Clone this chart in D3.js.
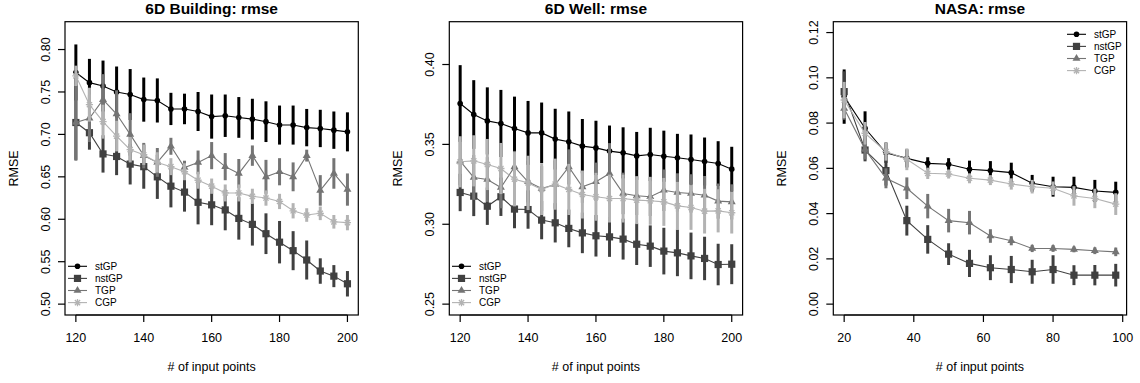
<!DOCTYPE html>
<html>
<head>
<meta charset="utf-8">
<style>
  body { margin:0; background:#fff; }
  text { font-family: "Liberation Sans", Arial, Helvetica, sans-serif; fill:#000; }
  .title { font-size:15.5px; font-weight:bold; }
  .tick { font-size:12.5px; }
  .lab { font-size:12.5px; }
  .leg { font-size:10px; }
</style>
</head>
<body>
<script src="https://cdnjs.cloudflare.com/ajax/libs/d3/7.8.5/d3.min.js"></script>
<script>

// ---- DATA ----
var seriesNames = ["stGP", "nstGP", "TGP", "CGP"];

// 6D Building
var bldX    = [120,124,128,132,136,140,144,148,152,156,160,164,168,172,176,180,184,188,192,196,200];
var bldSt   = [0.773,0.761,0.757,0.750,0.747,0.741,0.740,0.730,0.730,0.727,0.721,0.722,0.720,0.718,0.715,0.711,0.711,0.708,0.707,0.705,0.703];
var bldStE  = [0.033,0.028,0.030,0.030,0.030,0.026,0.026,0.019,0.018,0.023,0.026,0.025,0.024,0.024,0.024,0.023,0.023,0.022,0.022,0.022,0.023];
var bldNst  = [0.714,0.702,0.677,0.674,0.665,0.662,0.650,0.639,0.632,0.620,0.617,0.611,0.601,0.594,0.583,0.573,0.563,0.552,0.539,0.533,0.524];
var bldNstE = [0.044,0.020,0.022,0.022,0.024,0.026,0.026,0.025,0.023,0.026,0.024,0.024,0.025,0.025,0.024,0.025,0.023,0.023,0.015,0.013,0.015];
var bldTgp  = [0.714,0.719,0.741,0.724,0.700,0.675,0.667,0.686,0.661,0.667,0.675,0.662,0.654,0.675,0.650,0.656,0.650,0.675,0.634,0.654,0.635];
var bldTgpE = [0.045,0.028,0.030,0.028,0.025,0.015,0.017,0.010,0.008,0.014,0.016,0.016,0.017,0.012,0.020,0.016,0.017,0.007,0.018,0.018,0.019];
var bldCgp  = [0.769,0.735,0.715,0.698,0.682,0.676,0.667,0.662,0.656,0.646,0.639,0.631,0.631,0.627,0.625,0.621,0.610,0.605,0.607,0.597,0.596];
var bldCgpE = [0.012,0.020,0.020,0.018,0.015,0.012,0.012,0.010,0.010,0.010,0.009,0.010,0.010,0.009,0.009,0.009,0.009,0.008,0.008,0.008,0.009];

// 6D Well
var wellX    = [120,124,128,132,136,140,144,148,152,156,160,164,168,172,176,180,184,188,192,196,200];
var wellSt   = [0.3756,0.3687,0.3647,0.3631,0.3599,0.3572,0.3572,0.3533,0.3516,0.3489,0.3478,0.3458,0.3447,0.3428,0.3437,0.3426,0.3416,0.3405,0.3393,0.3380,0.3345];
var wellStE  = [0.024,0.0215,0.021,0.021,0.020,0.020,0.019,0.019,0.019,0.017,0.017,0.016,0.016,0.015,0.0167,0.016,0.015,0.0157,0.015,0.014,0.014];
var wellNst  = [0.3199,0.3176,0.3113,0.3172,0.3095,0.3092,0.3026,0.3009,0.2974,0.2946,0.2928,0.2921,0.2907,0.2875,0.2863,0.2832,0.2821,0.2802,0.2786,0.2748,0.2750];
var wellNstE = [0.0117,0.0125,0.0117,0.012,0.012,0.012,0.012,0.0123,0.0118,0.0127,0.013,0.0125,0.0128,0.013,0.013,0.0146,0.0146,0.0146,0.0136,0.013,0.0125];
var wellTgp  = [0.3395,0.3293,0.3280,0.3230,0.3359,0.3266,0.3224,0.3249,0.3359,0.3234,0.3266,0.3318,0.3193,0.3178,0.3172,0.3213,0.3199,0.3193,0.3182,0.3145,0.3140];
var wellTgpE = [0.015,0.014,0.014,0.013,0.010,0.013,0.014,0.015,0.011,0.010,0.012,0.019,0.013,0.012,0.012,0.013,0.012,0.012,0.012,0.011,0.011];
var wellCgp  = [0.3391,0.3397,0.3374,0.3349,0.3282,0.3259,0.3218,0.3251,0.3218,0.3186,0.3172,0.3161,0.3161,0.3151,0.3147,0.3140,0.3115,0.3105,0.3082,0.3084,0.3072];
var wellCgpE = [0.016,0.016,0.016,0.016,0.017,0.017,0.016,0.016,0.016,0.015,0.015,0.015,0.015,0.015,0.015,0.015,0.015,0.014,0.014,0.0135,0.013];

// NASA
var nasaX    = [20,26,32,38,44,50,56,62,68,74,80,86,92,98];
var nasaSt   = [0.0917,0.0777,0.0669,0.0644,0.0622,0.0618,0.0596,0.0590,0.0581,0.0534,0.0519,0.0516,0.0500,0.0494];
var nasaStE  = [0.012,0.0075,0.0045,0.0040,0.0027,0.0027,0.0038,0.0042,0.0044,0.0037,0.0044,0.0047,0.0049,0.0047];
var nasaNst  = [0.0939,0.0681,0.0590,0.0369,0.0286,0.0221,0.0180,0.0161,0.0153,0.0143,0.0153,0.0128,0.0128,0.0128];
var nasaNstE = [0.0090,0.0050,0.0066,0.0066,0.0063,0.0048,0.0060,0.0055,0.0060,0.0053,0.0063,0.0044,0.0045,0.0050];
var nasaTgp  = [0.0865,0.0684,0.0556,0.0512,0.0433,0.0369,0.0360,0.0301,0.0280,0.0246,0.0246,0.0242,0.0236,0.0231];
var nasaTgpE = [0.0050,0.0045,0.0044,0.0048,0.0054,0.0052,0.0052,0.0030,0.0020,0.0016,0.0015,0.0013,0.0015,0.0019];
var nasaCgp  = [0.0902,0.0755,0.0674,0.0640,0.0578,0.0575,0.0556,0.0548,0.0531,0.0519,0.0512,0.0478,0.0467,0.0442];
var nasaCgpE = [0.0080,0.0050,0.0040,0.0048,0.0025,0.0020,0.0022,0.0022,0.0025,0.0030,0.0030,0.0043,0.0043,0.0048];

// ---- STYLE ----
var colors = ["#000000", "#404040", "#747474", "#b3b3b3"];
var shapes = ["circle", "square", "triangle", "star"];

var width = 1140, height = 383;
var boxW = 293.3, boxTop = 21.7, boxBottom = 315;

var svg = d3.select("body").append("svg")
  .attr("width", width)
  .attr("height", height);

// R style axis extension (4% each side)
function rlim(lim) {
  var d = (lim[1] - lim[0]) * 0.04;
  return [lim[0] - d, lim[1] + d];
}

// draw one point symbol
function symbol(g, shape, cx, cy, col) {
  if (shape == "circle") {
    g.append("circle").attr("cx", cx).attr("cy", cy).attr("r", 2.8).attr("fill", col);
  } else if (shape == "square") {
    g.append("rect").attr("x", cx - 3.6).attr("y", cy - 3.6)
      .attr("width", 7.2).attr("height", 7.2).attr("fill", col);
  } else if (shape == "triangle") {
    g.append("path")
      .attr("d", "M" + cx + "," + (cy - 4.6) + "L" + (cx + 4) + "," + (cy + 2.3) + "L" + (cx - 4) + "," + (cy + 2.3) + "Z")
      .attr("fill", col);
  } else {
    var r = 3.6, q = 2.6;
    g.append("path")
      .attr("d", "M" + (cx - r) + "," + cy + "L" + (cx + r) + "," + cy +
                 "M" + cx + "," + (cy - r) + "L" + cx + "," + (cy + r) +
                 "M" + (cx - q) + "," + (cy - q) + "L" + (cx + q) + "," + (cy + q) +
                 "M" + (cx - q) + "," + (cy + q) + "L" + (cx + q) + "," + (cy - q))
      .attr("stroke", col).attr("stroke-width", 1.3).attr("fill", "none");
  }
}

function panel(p) {
  var x = d3.scaleLinear().domain(rlim(p.xlim)).range([p.left, p.left + boxW]);
  var y = d3.scaleLinear().domain(rlim(p.ylim)).range([boxBottom, boxTop]);
  var g = svg.append("g");

  // series: error bars, line, points
  p.means.forEach(function(m, s) {
    var col = colors[s], e = p.errs[s];
    var sg = g.append("g");
    sg.selectAll("line.err")
      .data(m)
      .enter().append("line")
        .attr("x1", function(d, i) { return x(p.x[i]); })
        .attr("x2", function(d, i) { return x(p.x[i]); })
        .attr("y1", function(d, i) { return y(d - e[i]); })
        .attr("y2", function(d, i) { return y(d + e[i]); })
        .attr("stroke", col)
        .attr("stroke-width", 3);
    var line = d3.line().x(function(d, i) { return x(p.x[i]); }).y(function(d) { return y(d); });
    sg.append("path").datum(m)
      .attr("d", line)
      .attr("fill", "none")
      .attr("stroke", col)
      .attr("stroke-width", 1.1);
    m.forEach(function(d, i) { symbol(sg, shapes[s], x(p.x[i]), y(d), col); });
  });

  // box
  g.append("rect")
    .attr("x", p.left).attr("y", boxTop)
    .attr("width", boxW).attr("height", boxBottom - boxTop)
    .attr("fill", "none").attr("stroke", "#000").attr("stroke-width", 1.2);

  // x axis
  var xa = g.append("g");
  xa.append("line")
    .attr("x1", x(p.xticks[0])).attr("x2", x(p.xticks[p.xticks.length - 1]))
    .attr("y1", boxBottom).attr("y2", boxBottom)
    .attr("stroke", "#000").attr("stroke-width", 1.2);
  p.xticks.forEach(function(t) {
    xa.append("line").attr("x1", x(t)).attr("x2", x(t))
      .attr("y1", boxBottom).attr("y2", boxBottom + 7)
      .attr("stroke", "#000").attr("stroke-width", 1.2);
    xa.append("text").attr("class", "tick")
      .attr("x", x(t)).attr("y", 342)
      .attr("text-anchor", "middle")
      .text(t);
  });

  // y axis
  var ya = g.append("g");
  p.yticks.forEach(function(t) {
    ya.append("line").attr("x1", p.left - 7).attr("x2", p.left)
      .attr("y1", y(t)).attr("y2", y(t))
      .attr("stroke", "#000").attr("stroke-width", 1.2);
    ya.append("text").attr("class", "tick")
      .attr("transform", "translate(" + (p.left - 15.5) + "," + y(t) + ") rotate(-90)")
      .attr("text-anchor", "middle")
      .text(p.yfmt(t));
  });

  // labels
  g.append("text").attr("class", "title")
    .attr("x", p.left + boxW / 2).attr("y", 13.5)
    .attr("text-anchor", "middle")
    .text(p.title);
  g.append("text").attr("class", "lab")
    .attr("x", p.left + boxW / 2).attr("y", 371)
    .attr("text-anchor", "middle")
    .text("# of input points");
  g.append("text").attr("class", "lab")
    .attr("transform", "translate(" + (p.left - 47) + "," + ((boxTop + boxBottom) / 2) + ") rotate(-90)")
    .attr("text-anchor", "middle")
    .text("RMSE");

  // legend
  var lg = g.append("g");
  seriesNames.forEach(function(name, s) {
    var ly = p.leg.y + s * 12.1;
    lg.append("line")
      .attr("x1", p.leg.x).attr("x2", p.leg.x + 19)
      .attr("y1", ly).attr("y2", ly)
      .attr("stroke", colors[s]).attr("stroke-width", 1.1);
    symbol(lg, shapes[s], p.leg.x + 9.5, ly, colors[s]);
    lg.append("text").attr("class", "leg")
      .attr("x", p.leg.x + 27).attr("y", ly).attr("dy", "0.36em")
      .text(name);
  });
}

var f2 = d3.format(".2f");

panel({
  title: "6D Building: rmse", left: 65,
  xlim: [120, 200], ylim: [0.50, 0.82],
  xticks: [120, 140, 160, 180, 200],
  yticks: [0.50, 0.55, 0.60, 0.65, 0.70, 0.75, 0.80], yfmt: f2,
  x: bldX,
  means: [bldSt, bldNst, bldTgp, bldCgp],
  errs: [bldStE, bldNstE, bldTgpE, bldCgpE],
  leg: { x: 68, y: 266.3 }
});

panel({
  title: "6D Well: rmse", left: 449.3,
  xlim: [120, 200], ylim: [0.25, 0.42],
  xticks: [120, 140, 160, 180, 200],
  yticks: [0.25, 0.30, 0.35, 0.40], yfmt: f2,
  x: wellX,
  means: [wellSt, wellNst, wellTgp, wellCgp],
  errs: [wellStE, wellNstE, wellTgpE, wellCgpE],
  leg: { x: 452, y: 266.3 }
});

panel({
  title: "NASA: rmse", left: 833.3,
  xlim: [20, 98], ylim: [0, 0.12],
  xticks: [20, 40, 60, 80, 100],
  yticks: [0, 0.02, 0.04, 0.06, 0.08, 0.10, 0.12], yfmt: f2,
  x: nasaX,
  means: [nasaSt, nasaNst, nasaTgp, nasaCgp],
  errs: [nasaStE, nasaNstE, nasaTgpE, nasaCgpE],
  leg: { x: 1067, y: 34.3 }
});

</script>
</body>
</html>
